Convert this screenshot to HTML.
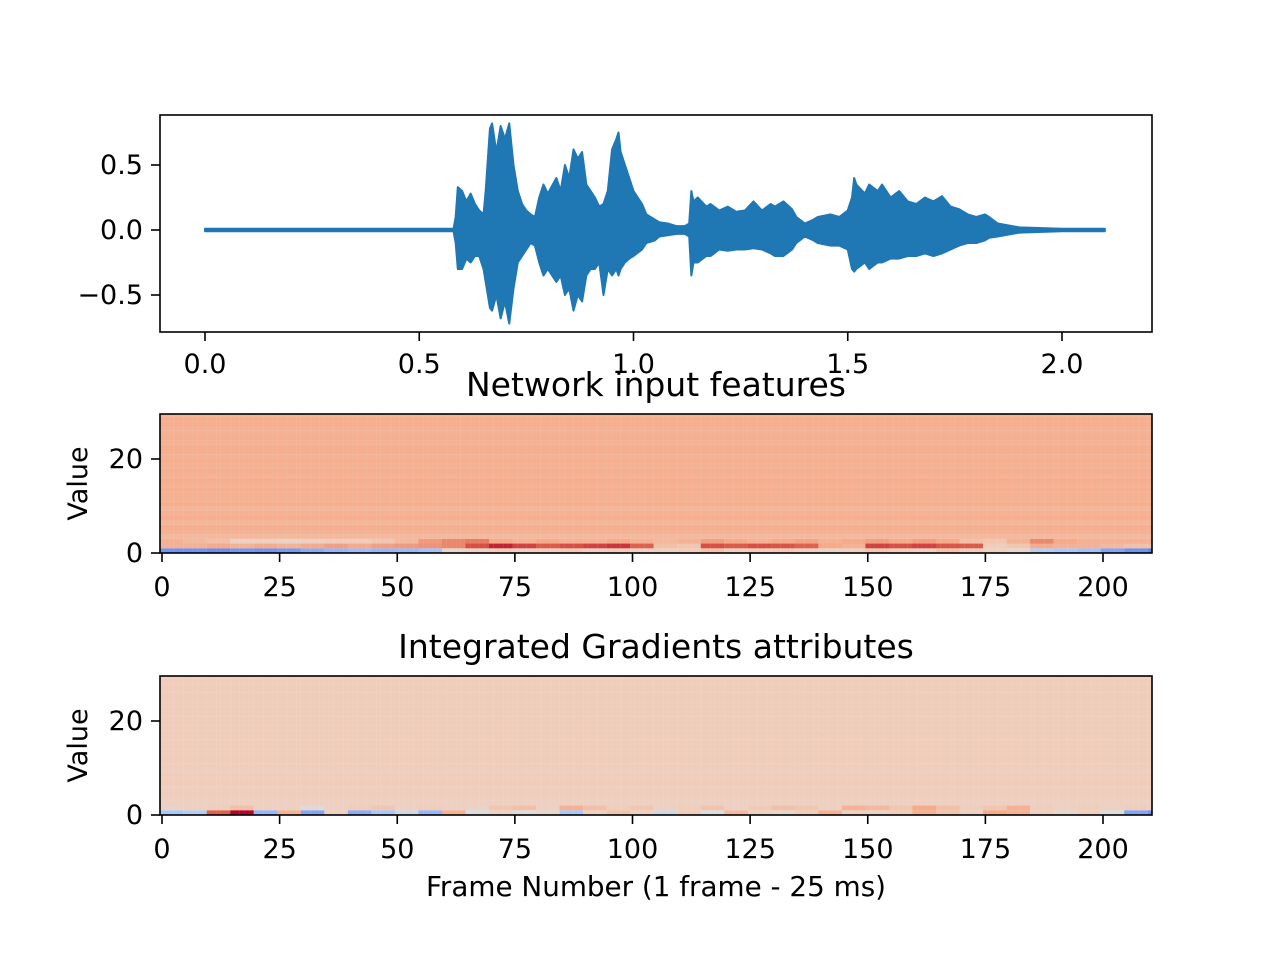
<!DOCTYPE html>
<html><head><meta charset="utf-8"><style>
body{margin:0;background:#fff;width:1280px;height:960px;overflow:hidden}
svg text{font-family:"DejaVu Sans","Liberation Sans",sans-serif;fill:#000}
</style></head><body>
<svg id="fig" width="1280" height="960" xmlns="http://www.w3.org/2000/svg"></svg>
<script>
// waveform envelope data (seconds, amplitude)
const waveTimes=[0,0.58,0.585,0.59,0.6,0.61,0.62,0.63,0.64,0.65,0.655,0.665,0.67,0.68,0.69,0.70,0.71,0.72,0.725,0.73,0.74,0.75,0.76,0.77,0.78,0.79,0.80,0.82,0.83,0.84,0.85,0.86,0.87,0.88,0.89,0.90,0.91,0.92,0.93,0.94,0.95,0.96,0.965,0.97,0.98,0.99,1.0,1.02,1.03,1.05,1.06,1.08,1.1,1.12,1.13,1.135,1.14,1.15,1.17,1.18,1.2,1.22,1.24,1.26,1.28,1.3,1.32,1.33,1.35,1.37,1.38,1.4,1.42,1.43,1.46,1.48,1.5,1.51,1.515,1.52,1.54,1.55,1.57,1.58,1.6,1.62,1.64,1.66,1.68,1.7,1.72,1.74,1.76,1.78,1.8,1.82,1.83,1.85,1.9,2.0,2.1];
const waveUpper=[0.01,0.01,0.1,0.33,0.3,0.22,0.28,0.2,0.15,0.12,0.3,0.78,0.82,0.6,0.8,0.7,0.82,0.5,0.4,0.3,0.2,0.15,0.12,0.1,0.25,0.35,0.28,0.4,0.3,0.5,0.4,0.62,0.55,0.6,0.35,0.3,0.25,0.18,0.2,0.3,0.62,0.7,0.75,0.6,0.5,0.4,0.3,0.2,0.12,0.08,0.06,0.05,0.03,0.03,0.05,0.3,0.22,0.25,0.18,0.2,0.15,0.18,0.14,0.15,0.22,0.15,0.2,0.18,0.22,0.16,0.1,0.05,0.08,0.1,0.12,0.1,0.15,0.25,0.4,0.35,0.28,0.35,0.3,0.35,0.25,0.3,0.22,0.2,0.25,0.22,0.26,0.18,0.16,0.12,0.1,0.12,0.1,0.05,0.02,0.01,0.01];
const waveLower=[-0.01,-0.01,-0.1,-0.3,-0.3,-0.22,-0.25,-0.2,-0.2,-0.3,-0.4,-0.6,-0.62,-0.5,-0.68,-0.55,-0.72,-0.45,-0.35,-0.25,-0.2,-0.15,-0.1,-0.12,-0.25,-0.35,-0.3,-0.4,-0.35,-0.5,-0.45,-0.62,-0.5,-0.55,-0.35,-0.3,-0.3,-0.25,-0.5,-0.3,-0.35,-0.3,-0.35,-0.3,-0.25,-0.22,-0.2,-0.15,-0.1,-0.08,-0.05,-0.04,-0.03,-0.03,-0.05,-0.35,-0.25,-0.25,-0.2,-0.2,-0.15,-0.16,-0.15,-0.15,-0.14,-0.15,-0.18,-0.2,-0.2,-0.15,-0.1,-0.05,-0.08,-0.1,-0.12,-0.12,-0.15,-0.3,-0.32,-0.3,-0.25,-0.3,-0.25,-0.25,-0.22,-0.22,-0.2,-0.2,-0.18,-0.2,-0.18,-0.15,-0.12,-0.1,-0.1,-0.08,-0.06,-0.05,-0.02,-0.01,-0.01];
const waveXTicks=[0,0.5,1.0,1.5,2.0];
const waveXLabels=["0.0","0.5","1.0","1.5","2.0"];
const waveYTicks=[-0.5,0,0.5];
const waveYLabels=["\u22120.5","0.0","0.5"];
// heatmap data: colormap positions (0=blue,0.5=white,1=red), blocks of 5 frames
const nFrames=211, nRows=30;
const featRow0=[0.15,0.15,0.14,0.16,0.15,0.17,0.22,0.25,0.27,0.25,0.26,0.28,0.55,0.58,0.62,0.6,0.6,0.63,0.6,0.62,0.58,0.6,0.62,0.65,0.6,0.62,0.63,0.6,0.58,0.6,0.64,0.62,0.6,0.65,0.62,0.6,0.55,0.35,0.3,0.28,0.2,0.15,0.12];
const featRow1=[0.7,0.7,0.72,0.7,0.72,0.7,0.72,0.74,0.72,0.74,0.75,0.76,0.78,0.88,0.95,0.9,0.86,0.88,0.9,0.92,0.85,0.66,0.64,0.88,0.86,0.88,0.87,0.85,0.72,0.7,0.9,0.88,0.9,0.87,0.86,0.62,0.64,0.72,0.7,0.7,0.68,0.66,0.66];
const featRow2=[0.7,0.68,0.66,0.6,0.6,0.58,0.6,0.62,0.62,0.64,0.68,0.75,0.78,0.8,0.72,0.7,0.72,0.7,0.7,0.72,0.7,0.68,0.7,0.74,0.72,0.7,0.72,0.73,0.7,0.72,0.74,0.72,0.74,0.72,0.66,0.64,0.7,0.78,0.72,0.7,0.7,0.7,0.7];
const featUpper=[0,0,0,0.68,0.7,0.71,0.69,0.71,0.7,0.69,0.71,0.7,0.7,0.71,0.7,0.71,0.7,0.71,0.7,0.71,0.7,0.71,0.71,0.7,0.71,0.7,0.7,0.71,0.71,0.7];
const attrRow0=[0.3,0.35,0.85,1.0,0.25,0.7,0.2,0.6,0.22,0.3,0.45,0.25,0.7,0.5,0.58,0.5,0.55,0.3,0.6,0.65,0.6,0.45,0.62,0.5,0.68,0.6,0.55,0.62,0.7,0.6,0.58,0.62,0.7,0.65,0.6,0.72,0.7,0.6,0.55,0.6,0.5,0.2,0.15];
const attrRow1=[0.58,0.6,0.62,0.66,0.6,0.6,0.52,0.6,0.62,0.64,0.6,0.62,0.6,0.58,0.64,0.66,0.6,0.7,0.66,0.62,0.64,0.6,0.62,0.65,0.6,0.63,0.66,0.64,0.6,0.7,0.68,0.64,0.72,0.66,0.62,0.64,0.7,0.62,0.6,0.62,0.6,0.62,0.6];
const attrUpper=[0,0,0.6,0.61,0.62,0.61,0.62,0.62,0.62,0.61,0.62,0.62,0.62,0.62,0.62,0.62,0.62,0.62,0.62,0.62,0.62,0.62,0.62,0.62,0.62,0.62,0.62,0.62,0.62,0.62];
const hmXTicks=[0,25,50,75,100,125,150,175,200];
const hmYTicks=[0,20];

const NS="http://www.w3.org/2000/svg";
const svg=document.getElementById('fig');
function mk(tag,attrs,parent){const e=document.createElementNS(NS,tag);for(const k in attrs)e.setAttribute(k,attrs[k]);(parent||svg).appendChild(e);return e;}
const cmapStops=[[0,[59,76,192]],[0.15,[111,146,243]],[0.3,[170,199,253]],[0.5,[221,220,220]],[0.62,[240,205,187]],[0.72,[245,170,137]],[0.85,[222,96,77]],[1,[180,4,38]]];
function cmap(v){v=Math.max(0,Math.min(1,v));for(let i=1;i<cmapStops.length;i++){const a=cmapStops[i-1],b=cmapStops[i];if(v<=b[0]){const t=(v-a[0])/(b[0]-a[0]);const c=a[1].map((x,j)=>Math.round(x+(b[1][j]-x)*t));return `rgb(${c[0]},${c[1]},${c[2]})`;}}return 'rgb(180,4,38)';}

// ---------- waveform axes ----------
const A1={l:160,r:1152,t:115,b:332};
const wx=t=>205+t*428.5, wy=v=>230-v*130;
let pts=[];
for(let i=0;i<waveTimes.length;i++)pts.push(wx(waveTimes[i])+','+wy(waveUpper[i]));
for(let i=waveTimes.length-1;i>=0;i--)pts.push(wx(waveTimes[i])+','+wy(waveLower[i]));
const wave=mk('polygon',{points:pts.join(' '),fill:'#1f77b4',stroke:'#1f77b4','stroke-width':2,'stroke-linejoin':'round'});


const f1=mk('rect',{x:A1.l,y:A1.t,width:A1.r-A1.l,height:A1.b-A1.t,fill:'none',stroke:'#000','stroke-width':1.6});


waveXTicks.forEach((t,i)=>{const x=wx(t);mk('line',{x1:x,x2:x,y1:A1.b,y2:A1.b+9,stroke:'#000','stroke-width':1.6});
 const tx=mk('text',{x:x,y:A1.b+41,'text-anchor':'middle','font-size':27});tx.textContent=waveXLabels[i];
 
 });
waveYTicks.forEach((v,i)=>{const y=wy(v);mk('line',{x1:A1.l-9,x2:A1.l,y1:y,y2:y,stroke:'#000','stroke-width':1.6});
 const tx=mk('text',{x:A1.l-17,y:y+9,'text-anchor':'end','font-size':27});tx.textContent=waveYLabels[i];
 
 });

// ---------- heatmaps ----------
function heatmap(top,name,title,r0,r1,r2,upper,showXLabel){
 const A={l:160,r:1152,t:top,b:top+139};
 const hx=f=>162+f*4.705, hy=v=>A.b-v*4.7;
 const g=mk('g',{});
 
 
 const cid='clip'+top;const cp=mk('clipPath',{id:cid},g);mk('rect',{x:A.l,y:A.t,width:A.r-A.l,height:A.b-A.t},cp);
 const cells=mk('g',{'clip-path':`url(#${cid})`},g);
 for(let r=0;r<nRows;r++){
  for(let f=0;f<nFrames;f++){
   const blk=Math.min(Math.floor(f/5),r0.length-1);
   let v=r===0?r0[blk]:r===1?r1[blk]:(r===2&&r2)?r2[blk]:upper[r];
   const c=mk('rect',{x:hx(f-0.5),y:hy(r+1)-0.1,width:4.8,height:4.8,fill:cmap(v)},cells);
   
   
  }
 }
 mk('rect',{x:A.l,y:A.t,width:A.r-A.l,height:A.b-A.t,fill:'none',stroke:'#000','stroke-width':1.6},g);
 hmXTicks.forEach(t=>{const x=hx(t);mk('line',{x1:x,x2:x,y1:A.b,y2:A.b+9,stroke:'#000','stroke-width':1.6},g);
  const tx=mk('text',{x:x,y:A.b+43,'text-anchor':'middle','font-size':27},g);tx.textContent=t;
  
  });
 hmYTicks.forEach(t=>{const y=hy(t);mk('line',{x1:A.l-9,x2:A.l,y1:y,y2:y,stroke:'#000','stroke-width':1.6},g);
  const tx=mk('text',{x:A.l-17,y:y+9,'text-anchor':'end','font-size':27},g);tx.textContent=t;
  
  });
 const yl=mk('text',{x:0,y:0,'text-anchor':'middle','font-size':27,transform:`translate(87,${(A.t+A.b)/2}) rotate(-90)`},g);yl.textContent='Value';
 
 
 const tt=mk('text',{x:656,y:A.t-18,'text-anchor':'middle','font-size':33},g);tt.textContent=title;
 
 
 if(showXLabel){const xl=mk('text',{x:656,y:A.b+81,'text-anchor':'middle','font-size':27.8},g);xl.textContent='Frame Number (1 frame - 25 ms)';
  
  }
}
heatmap(414,'network-input-heatmap','Network input features',featRow0,featRow1,featRow2,featUpper,false);
heatmap(676,'integrated-gradients-heatmap','Integrated Gradients attributes',attrRow0,attrRow1,null,attrUpper,true);
</script>
</body></html>
